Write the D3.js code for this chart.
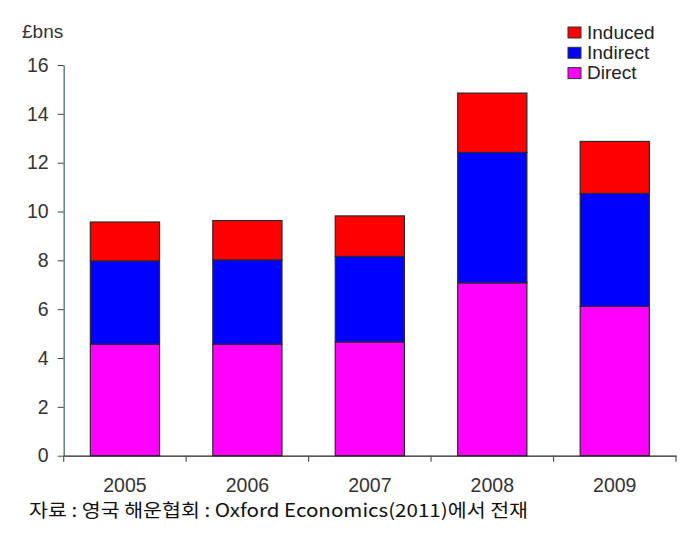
<!DOCTYPE html>
<html><head><meta charset="utf-8">
<script src="https://cdn.jsdelivr.net/npm/d3@7"></script>
<style>body{margin:0;background:#fff}svg{display:block}</style>
</head><body>
<svg id="c" width="682" height="536"></svg>
<script>
const years = ["2005","2006","2007","2008","2009"];
const direct = [4.57, 4.57, 4.66, 7.08, 6.12];
const indirect = [3.41, 3.45, 3.50, 5.34, 4.62];
const induced = [1.59, 1.61, 1.66, 2.43, 2.13];
const seriesNames = ["Direct","Indirect","Induced"];
const seriesColors = ["#FF00FF","#0000FF","#FF0000"];
const yTicks = [0,2,4,6,8,10,12,14,16];
const unitLabel = "£bns";
const source = "자료 : 영국 해운협회 : Oxford Economics(2011)에서 전재";

const svg = d3.select("#c");
const font = "'Liberation Sans', Arial, sans-serif";
const mLeft = 63.7, mRight = 676, mTop = 65, mBottom = 455.7;

const x = d3.scaleBand().domain(years).range([mLeft, mRight]).paddingInner(0.435).paddingOuter(0.2175);
const y = d3.scaleLinear().domain([0,16]).range([mBottom, mTop]);

const rows = years.map((yr,i)=>({year:yr, Direct:direct[i], Indirect:indirect[i], Induced:induced[i]}));
const stack = d3.stack().keys(seriesNames)(rows);

svg.append("g").selectAll("g").data(stack).join("g")
  .attr("fill",(d,i)=>seriesColors[i])
  .selectAll("rect").data(d=>d).join("rect")
  .attr("x",d=>x(d.data.year))
  .attr("width",x.bandwidth())
  .attr("y",d=>y(d[1]))
  .attr("height",d=>y(d[0])-y(d[1]))
  .attr("stroke","#2a2a2a").attr("stroke-width",1.2);

// y axis
const ya = svg.append("g").attr("transform",`translate(${mLeft},0)`)
  .call(d3.axisLeft(y).tickValues(yTicks).tickSize(6).tickSizeOuter(0).tickPadding(9));
ya.select(".domain").attr("stroke","#5f7f86").attr("stroke-width",1.5);
ya.selectAll(".tick line").attr("stroke","#444");
ya.selectAll("text").attr("font-family",font).attr("font-size",19.5).attr("fill","#333");

// x axis
const xa = svg.append("g").attr("transform",`translate(0,${mBottom})`)
  .call(d3.axisBottom(x).tickSize(0).tickPadding(22));
xa.select(".domain").attr("stroke","#222").attr("stroke-width",1.2);
xa.selectAll("text").attr("font-family",font).attr("font-size",19.5).attr("fill","#333");
// boundary ticks
const bounds = years.map(yr=>x(yr)-x.step()*x.paddingInner()/2).concat([mRight]);
xa.selectAll(".bt").data(bounds).join("line").attr("class","bt")
  .attr("x1",d=>d).attr("x2",d=>d).attr("y1",0).attr("y2",6)
  .attr("stroke","#555").attr("stroke-width",1.2);

svg.append("text").attr("x",22).attr("y",38).attr("font-family",font)
  .attr("font-size",19).attr("fill","#333").text(unitLabel);

// legend
const legendOrder = [2,1,0];
const lg = svg.append("g");
legendOrder.forEach((si,k)=>{
  const yy = 27 + k*20.3;
  lg.append("rect").attr("x",568).attr("y",yy).attr("width",13).attr("height",11)
    .attr("fill",seriesColors[si]).attr("stroke","#333").attr("stroke-width",1);
  lg.append("text").attr("x",587).attr("y",yy+11.5).attr("font-family",font)
    .attr("font-size",19).attr("fill","#222").text(seriesNames[si]);
});

svg.append("text").attr("x",29).attr("y",517)
  .attr("font-family","'Noto Sans CJK KR', sans-serif").attr("font-size",18).attr("fill","#111")
  .attr("textLength",499).attr("lengthAdjust","spacingAndGlyphs").text(source);
</script>
</body></html>
